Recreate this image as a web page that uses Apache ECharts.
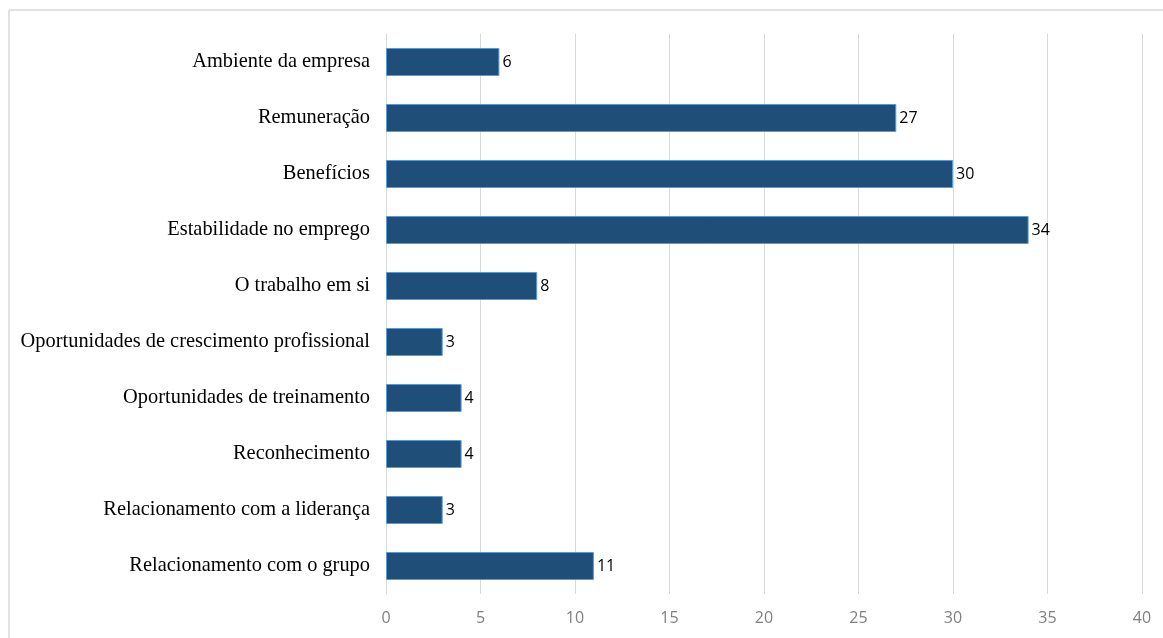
<!DOCTYPE html>
<html>
<head>
<meta charset="utf-8">
<script src="https://cdn.jsdelivr.net/npm/echarts@6/dist/echarts.min.js"></script>
<style>
  html, body { margin: 0; padding: 0; background: #ffffff; }
  #chart { width: 1163px; height: 638px; }
</style>
</head>
<body>
<div id="chart"></div>
<script>
// Factors, listed top to bottom
const categories = [
  'Ambiente da empresa',
  'Remuneração',
  'Benefícios',
  'Estabilidade no emprego',
  'O trabalho em si',
  'Oportunidades de crescimento profissional',
  'Oportunidades de treinamento',
  'Reconhecimento',
  'Relacionamento com a liderança',
  'Relacionamento com o grupo'
];
const counts = [6, 27, 30, 34, 8, 3, 4, 4, 3, 11];
const xTicks = [0, 5, 10, 15, 20, 25, 30, 35, 40];

const chart = echarts.init(document.getElementById('chart'));

chart.setOption({
  animation: false,
  backgroundColor: '#ffffff',
  grid: { left: 386, right: 21, top: 34, bottom: 44, containLabel: false },
  graphic: [
    { type: 'line', shape: { x1: 9, y1: 10, x2: 1163, y2: 10 },
      style: { stroke: '#d9d9d9', lineWidth: 1.5 }, silent: true },
    { type: 'line', shape: { x1: 9, y1: 10, x2: 9, y2: 638 },
      style: { stroke: '#d9d9d9', lineWidth: 1.5 }, silent: true }
  ],
  xAxis: {
    type: 'value',
    min: xTicks[0],
    max: xTicks[xTicks.length - 1],
    interval: xTicks[1] - xTicks[0],
    axisLine: { show: false },
    axisTick: { show: false },
    splitLine: { show: true, lineStyle: { color: '#d9d9d9', width: 1 } },
    axisLabel: {
      color: '#808080',
      fontFamily: 'Open Sans, Liberation Sans, sans-serif',
      fontSize: 16,
      margin: 16
    }
  },
  yAxis: {
    type: 'category',
    data: categories,
    inverse: true,
    axisLine: { show: true, lineStyle: { color: '#d9d9d9', width: 1 } },
    axisTick: { show: false },
    splitLine: { show: false },
    axisLabel: {
      color: '#000000',
      fontFamily: 'Liberation Serif, Times New Roman, serif',
      fontSize: 20.4,
      margin: 16
    }
  },
  series: [{
    type: 'bar',
    data: counts,
    barWidth: 28,
    itemStyle: {
      color: '#1f4e79',
      borderColor: '#5b9bd5',
      borderWidth: 1
    },
    label: {
      show: true,
      position: 'right',
      distance: 3,
      color: '#000000',
      fontFamily: 'Open Sans, Liberation Sans, sans-serif',
      fontSize: 16
    }
  }]
});
</script>
</body>
</html>
